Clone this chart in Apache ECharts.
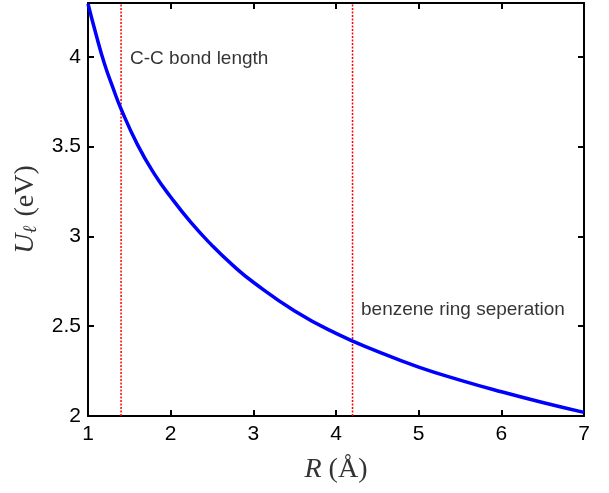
<!DOCTYPE html>
<html>
<head>
<meta charset="utf-8">
<script src="https://cdn.jsdelivr.net/npm/echarts@6/dist/echarts.min.js"></script>
<style>html,body{margin:0;padding:0;background:#fff;}#c{width:609px;height:493px;}</style>
</head>
<body>
<div id="c"></div>
<script>
// Data
var R_values = [1.0, 1.1, 1.2, 1.3, 1.4, 1.6, 1.8, 2.0, 2.25, 2.5, 2.75, 3.0, 3.5, 4.0, 4.5, 5.0, 5.5, 6.0, 6.5, 7.0];
var U_values = [4.296, 4.12, 3.96, 3.83, 3.71, 3.51, 3.35, 3.22, 3.075, 2.95, 2.84, 2.745, 2.585, 2.46, 2.36, 2.272, 2.20, 2.135, 2.075, 2.02];
var markerR = [1.4, 4.2];
var annotationTexts = ['C-C bond length', 'benzene ring seperation'];
var annotationAt = [[1.448, 3.99], [4.242, 2.59]];
var xTicks = [1, 2, 3, 4, 5, 6, 7];
var yTicks = [2, 2.5, 3, 3.5, 4];

var xMin = 1, xMax = 7, yMin = 2, yMax = 4.3;

var curve = R_values.map(function (r, i) { return [r, U_values[i]]; });

var series = [{
  type: 'line',
  data: curve,
  smooth: 0.5,
  showSymbol: false,
  symbol: 'none',
  lineStyle: { color: '#0000ff', width: 3.5 },
  z: 3
}];
markerR.forEach(function (r) {
  series.push({
    type: 'line',
    data: [[r, yMin], [r, yMax]],
    showSymbol: false,
    symbol: 'none',
    lineStyle: { color: '#ff0000', width: 1.5, type: [2, 1.5] },
    z: 2
  });
});
series.push({
  type: 'scatter',
  symbolSize: 0,
  data: annotationAt.map(function (p, i) { return { value: p, name: annotationTexts[i] }; }),
  label: {
    show: true,
    position: 'right',
    distance: 5,
    formatter: function (p) { return p.name; },
    color: '#000',
    fontSize: 19,
    fontFamily: 'Liberation Sans, Arial, sans-serif'
  },
  silent: true,
  z: 4
});

var axisLineStyle = { color: '#000', width: 2 };
var labelFont = { color: '#000', fontSize: 21, fontFamily: 'Liberation Sans, Arial, sans-serif' };

var chart = echarts.init(document.getElementById('c'), null, { renderer: 'canvas' });
chart.setOption({
  animation: false,
  backgroundColor: '#fff',
  grid: { left: 88, right: 25, top: 3, bottom: 77 },
  xAxis: [{
    type: 'value', min: xMin, max: xMax, interval: 1, position: 'bottom',
    axisLine: { show: true, lineStyle: axisLineStyle, onZero: false },
    axisTick: { show: true, inside: true, length: 6, lineStyle: { color: '#000', width: 2 } },
    axisLabel: Object.assign({ margin: 8, formatter: function (v) { return xTicks.indexOf(v) >= 0 ? String(v) : ''; } }, labelFont),
    splitLine: { show: false },
    name: '{i|R} ({n|Å})',
    nameLocation: 'middle',
    nameGap: 40,
    nameTextStyle: {
      color: '#333', fontSize: 28, fontFamily: 'Liberation Serif, serif',
      rich: {
        i: { fontStyle: 'italic', fontSize: 28, fontFamily: 'Liberation Serif, serif', color: '#333' },
        n: { fontSize: 28, fontFamily: 'Liberation Serif, serif', color: '#333' }
      }
    }
  }, {
    type: 'value', min: xMin, max: xMax, interval: 1, position: 'top',
    axisLine: { show: true, lineStyle: axisLineStyle, onZero: false },
    axisTick: { show: true, inside: true, length: 6, lineStyle: { color: '#000', width: 2 } },
    axisLabel: { show: false },
    splitLine: { show: false }
  }],
  yAxis: [{
    type: 'value', min: yMin, max: yMax, interval: 0.5, position: 'left',
    axisLine: { show: true, lineStyle: axisLineStyle, onZero: false },
    axisTick: { show: true, inside: true, length: 6, lineStyle: { color: '#000', width: 2 } },
    axisLabel: Object.assign({ margin: 7, showMaxLabel: false, formatter: function (v) { return yTicks.indexOf(v) >= 0 ? String(v) : ''; } }, labelFont),
    splitLine: { show: false },
    name: '{i|U}{s|ℓ} {n|(eV)}',
    nameLocation: 'middle',
    nameGap: 46,
    nameTextStyle: {
      color: '#333', fontSize: 28, fontFamily: 'Liberation Serif, serif',
      rich: {
        i: { fontStyle: 'italic', fontSize: 28, fontFamily: 'Liberation Serif, serif', color: '#333' },
        s: { fontStyle: 'italic', fontSize: 19, fontFamily: 'Liberation Serif, serif', color: '#333', padding: [12, 2, 0, 0] },
        n: { fontSize: 28, fontFamily: 'Liberation Serif, serif', color: '#333' }
      }
    }
  }, {
    type: 'value', min: yMin, max: yMax, interval: 0.5, position: 'right',
    axisLine: { show: true, lineStyle: axisLineStyle, onZero: false },
    axisTick: { show: true, inside: true, length: 6, lineStyle: { color: '#000', width: 2 } },
    axisLabel: { show: false },
    splitLine: { show: false }
  }],
  series: series
});
</script>
</body>
</html>
